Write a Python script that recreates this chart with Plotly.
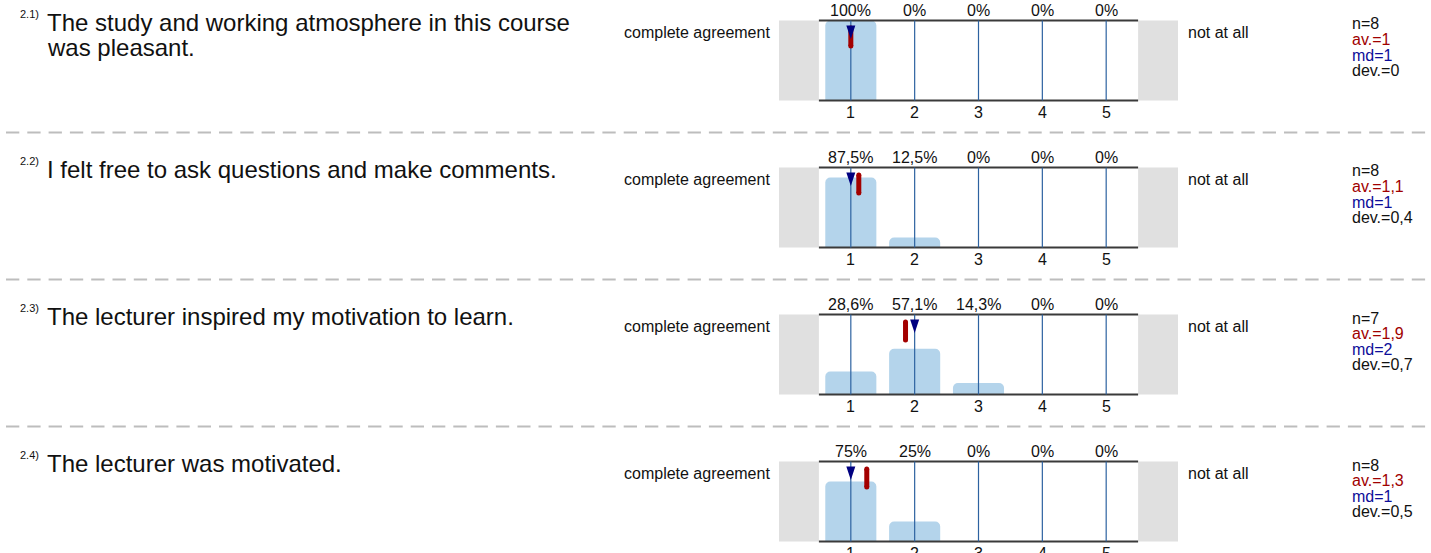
import plotly.graph_objects as go
from decimal import Decimal, ROUND_HALF_UP

W, H = 1431, 553

item_numbers = ["2.1)", "2.2)", "2.3)", "2.4)"]
questions = [
    ["The study and working atmosphere in this course", "was pleasant."],
    ["I felt free to ask questions and make comments."],
    ["The lecturer inspired my motivation to learn."],
    ["The lecturer was motivated."],
]
scale = [1, 2, 3, 4, 5]
percents = [
    [100, 0, 0, 0, 0],
    [87.5, 12.5, 0, 0, 0],
    [28.6, 57.1, 14.3, 0, 0],
    [75, 25, 0, 0, 0],
]
n_resp = [8, 8, 7, 8]
averages = [1.0, 1.125, 1.857, 1.25]
medians = [1, 1, 2, 1]
deviations = [0, 0.4, 0.7, 0.5]
left_pole = "complete agreement"
right_pole = "not at all"

FONT = "Liberation Sans, Arial, sans-serif"
BAR_BLUE = "#b4d4eb"
LINE_BLUE = "#2d62a0"
GREY_BOX = "#e0e0e0"
RED = "#a30000"
NAVY = "#000080"

TOP0, STEP, PH = 20.5, 147, 80  # pixel layout of the panels
PAD = 4
PX_PER_UNIT = 399 / 6.25


def num(v):
    s = str(Decimal(str(v)).quantize(Decimal("0.1"), ROUND_HALF_UP))
    if s.endswith(".0"):
        s = s[:-2]
    return s.replace(".", ",")


def py(px):
    return 1 - px / H


def px_x(px):
    return px / W


fig = go.Figure()
annotations = []
shapes = []

for i, (pcts, q) in enumerate(zip(percents, questions)):
    k = "" if i == 0 else str(i + 1)
    xa, ya = "x" + k, "y" + k
    top = TOP0 + STEP * i

    fig.update_layout({
        "xaxis" + k: dict(domain=[px_x(779), px_x(1178)], range=[-0.125, 6.125],
                          visible=False, fixedrange=True),
        "yaxis" + k: dict(domain=[py(top + PH + PAD), py(top - PAD)],
                          range=[-PAD / PH, 1 + PAD / PH], visible=False, fixedrange=True),
    })

    # grey end boxes
    for x0, x1 in [(-0.125, scale[0] - 0.5), (scale[-1] + 0.5, 6.125)]:
        shapes.append(dict(type="rect", xref=xa, yref=ya, x0=x0, x1=x1, y0=0, y1=1,
                           fillcolor=GREY_BOX, line_width=0, layer="below"))

    fig.add_trace(go.Bar(x=scale, y=[p / 100 for p in pcts], width=0.8,
                         marker=dict(color=BAR_BLUE, cornerradius=5, line_width=0),
                         xaxis=xa, yaxis=ya, hoverinfo="skip", showlegend=False))

    # frame lines top and bottom
    lo, hi = scale[0] - 0.5, scale[-1] + 0.5
    fig.add_trace(go.Scatter(x=[lo, hi, None, lo, hi], y=[0, 0, None, 1, 1], mode="lines",
                             line=dict(color="#3a3a3a", width=2), xaxis=xa, yaxis=ya,
                             hoverinfo="skip", showlegend=False))

    vx, vy = [], []
    for s in scale:
        vx += [s, s, None]
        vy += [0, 1, None]
    fig.add_trace(go.Scatter(x=vx, y=vy, mode="lines", line=dict(color=LINE_BLUE, width=1.2),
                             xaxis=xa, yaxis=ya, hoverinfo="skip", showlegend=False))

    # average marker
    av = averages[i]
    fig.add_trace(go.Scatter(x=[av, av], y=[1 - 7.5 / PH, 1 - 25.5 / PH], mode="lines+markers",
                             line=dict(color=RED, width=5), marker=dict(color=RED, size=5),
                             xaxis=xa, yaxis=ya, hoverinfo="skip", showlegend=False))

    # median triangle
    md = medians[i]
    hw = 4.5 / PX_PER_UNIT
    t0, t1 = 1 - 5 / PH, 1 - 18.5 / PH
    fig.add_trace(go.Scatter(x=[md - hw, md + hw, md, md - hw], y=[t0, t0, t1, t0],
                             mode="lines", fill="toself", fillcolor=NAVY, line=dict(width=0, color=NAVY),
                             xaxis=xa, yaxis=ya, hoverinfo="skip", showlegend=False))

    for s, p in zip(scale, pcts):
        annotations.append(dict(x=s, y=1, xref=xa, yref=ya, yshift=10.5, text=f"{num(p)}%",
                                showarrow=False, font=dict(size=16), yanchor="middle"))
        annotations.append(dict(x=s, y=0, xref=xa, yref=ya, yshift=-12, text=str(s),
                                showarrow=False, font=dict(size=16), yanchor="middle"))

    annotations.append(dict(x=px_x(772), y=py(top + 12), xref="paper", yref="paper",
                            text=left_pole, xanchor="right", yanchor="middle",
                            showarrow=False, font=dict(size=16)))
    annotations.append(dict(x=px_x(1186), y=py(top + 12), xref="paper", yref="paper",
                            text=right_pole, xanchor="left", yanchor="middle",
                            showarrow=False, font=dict(size=16)))

    stats = [(f"n={n_resp[i]}", "#111111"), (f"av.={num(av)}", "#a00000"),
             (f"md={num(md)}", "#0d0d99"), (f"dev.={num(deviations[i])}", "#111111")]
    for j, (txt, col) in enumerate(stats):
        annotations.append(dict(x=px_x(1350), y=py(top + 3.5 + 15.5 * j), xref="paper", yref="paper",
                                text=txt, xanchor="left", yanchor="middle", showarrow=False,
                                font=dict(size=16, color=col)))

    annotations.append(dict(x=px_x(18), y=py(top - 6.5), xref="paper", yref="paper",
                            text=item_numbers[i], xanchor="left", yanchor="middle",
                            showarrow=False, font=dict(size=11)))
    for j, line in enumerate(q):
        annotations.append(dict(x=px_x(45), y=py(top + 2 + 25 * j), xref="paper", yref="paper",
                                text=line, xanchor="left", yanchor="middle",
                                showarrow=False, font=dict(size=24)))

    if i < len(percents) - 1:
        shapes.append(dict(type="line", xref="paper", yref="paper", x0=px_x(6), x1=1,
                           y0=py(top + 112), y1=py(top + 112),
                           line=dict(color="#bdbdbd", width=2, dash="13.3px,8px")))

fig.update_layout(
    width=W, height=H,
    margin=dict(l=0, r=0, t=0, b=0),
    paper_bgcolor="white", plot_bgcolor="rgba(0,0,0,0)",
    font=dict(family=FONT, color="#111111"),
    barmode="overlay",
    annotations=annotations,
    shapes=shapes,
)

# drop the default page margin so the figure sits at the window's top-left corner
fig.write_html("out.html", config={"displayModeBar": False},
               post_script="document.body.style.margin = '0';")
